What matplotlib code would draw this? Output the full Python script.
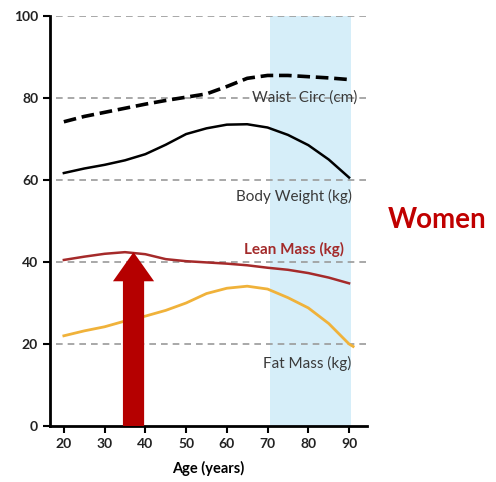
import numpy as np
import matplotlib.pyplot as plt

plt.rcParams['font.family'] = ['Lato', 'DejaVu Sans']

ages = [20, 25, 30, 35, 40, 45, 50, 55, 60, 65, 70, 75, 80, 85, 90]
waist = [74.2, 75.5, 76.5, 77.5, 78.5, 79.4, 80.2, 81.0, 82.8, 84.8, 85.5, 85.5, 85.2, 84.9, 84.5]
body = [61.7, 62.8, 63.7, 64.8, 66.3, 68.6, 71.2, 72.6, 73.5, 73.6, 72.8, 71.0, 68.5, 65.0, 60.6]
lean = [40.5, 41.3, 42.0, 42.4, 41.9, 40.7, 40.2, 39.9, 39.6, 39.2, 38.6, 38.1, 37.3, 36.2, 34.8]
fat_ages = ages + [91]
fat = [22.0, 23.2, 24.2, 25.6, 26.8, 28.2, 30.0, 32.3, 33.6, 34.1, 33.4, 31.3, 28.8, 25.0, 20.0, 19.4]

grid_vals = [20, 40, 60, 80, 100]
shade = (70.7, 90.5)
arrow_age = 37.1
arrow_top = 42.4

# label text, x, y, colour
labels = [
    ('Waist  Circ (cm)', 79.2, 80, '#3a3a3a'),
    ('Body Weight (kg)', 76.6, 56, '#3a3a3a'),
    ('Lean Mass (kg)', 76.4, 43, '#a32a2a'),
    ('Fat Mass (kg)', 79.8, 15.3, '#3a3a3a'),
]

fig = plt.figure(figsize=(4.96, 4.82), dpi=100)
ax = fig.add_axes([50/496, 56/482, 317/496, 410/482])

ax.axvspan(shade[0], shade[1], color='#d6eef9', zorder=0, lw=0)
for g in grid_vals:
    ax.axhline(g, xmin=0.02, xmax=1.0, color='#9a9a9a', lw=1.2, dashes=(4, 3), zorder=1)

ax.plot(ages, waist, color='black', lw=2.6, dashes=(3.5, 1.6), zorder=3)
ax.plot(ages, body, color='black', lw=1.8, zorder=3)
ax.plot(ages, lean, color='#a52a2a', lw=1.8, zorder=3)
ax.plot(fat_ages, fat, color='#f0b23a', lw=2.0, zorder=3)

ax.arrow(arrow_age, 0, 0, arrow_top, width=5.2, head_width=10.1, head_length=7.1,
         length_includes_head=True, color='#b50000', lw=0, zorder=4)

for txt, x, y, c in labels:
    ax.text(x, y, txt, color=c, fontsize=11, ha='center', va='center', zorder=5,
            fontweight='bold' if c == '#a32a2a' else 'normal')

ax.set_xlim(16.6, 94.4)
ax.set_ylim(0, 100)
ax.set_xticks([20, 30, 40, 50, 60, 70, 80, 90])
ax.set_yticks([0, 20, 40, 60, 80, 100])
for lab in ax.get_xticklabels() + ax.get_yticklabels():
    lab.set_fontweight('bold')
    lab.set_fontsize(10)
    lab.set_color('#222222')
ax.tick_params(direction='out', length=5, width=1.5)
ax.spines['top'].set_visible(False)
ax.spines['right'].set_visible(False)
ax.spines['left'].set_linewidth(2)
ax.spines['bottom'].set_linewidth(2)
ax.set_xlabel('Age (years)', fontsize=10.5, fontweight='bold', labelpad=8)

fig.text(437/496, 1 - 220/482, 'Women', color='#c00000', fontsize=20, fontweight='bold',
         ha='center', va='center')

fig.savefig('out.png', dpi=100)
